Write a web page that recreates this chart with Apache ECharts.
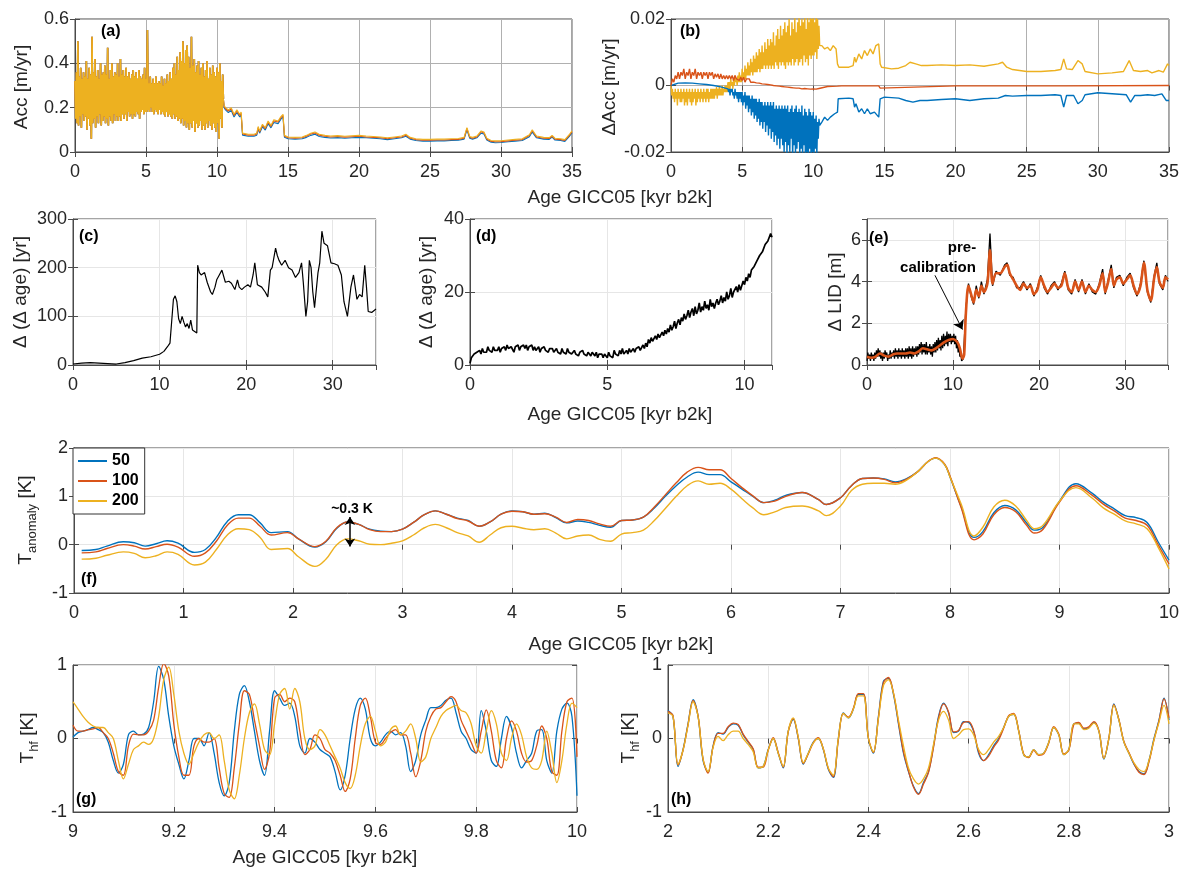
<!DOCTYPE html>
<html><head><meta charset="utf-8">
<script src="https://cdn.jsdelivr.net/npm/echarts@6.0.0/dist/echarts.min.js"></script>
<style>html,body{margin:0;padding:0;background:#fff}#c{width:1184px;height:869px}</style>
</head><body><div id="c"></div>
<script>
// ---------------- DATA ----------------
// (a) Accumulation [m/yr]; noisy Holocene part sampled every 0.05 kyr from 0
const accNoiseStart = 0, accNoiseStep = 0.05;
const accYellowNoise = [
0.32,0.15,0.36,0.13,0.50,0.12,0.34,0.16,0.38,0.11,0.33,0.17,0.36,0.14,0.34,0.16,0.41,0.10,0.33,0.15,
0.38,0.12,0.35,0.06,0.52,0.13,0.36,0.15,0.42,0.11,0.34,0.16,0.37,0.13,0.33,0.17,0.40,0.12,0.35,0.14,
0.36,0.16,0.39,0.13,0.35,0.15,0.47,0.12,0.33,0.16,0.37,0.14,0.40,0.13,0.34,0.17,0.36,0.14,0.35,0.16,
0.40,0.14,0.34,0.16,0.42,0.14,0.35,0.17,0.37,0.15,0.34,0.17,0.38,0.14,0.34,0.18,0.36,0.16,0.33,0.17,
0.35,0.15,0.37,0.17,0.34,0.16,0.36,0.18,0.33,0.17,0.37,0.15,0.34,0.18,0.33,0.19,0.35,0.17,0.38,0.18,
0.33,0.18,0.55,0.19,0.31,0.18,0.34,0.20,0.31,0.18,0.33,0.17,0.31,0.19,0.34,0.18,0.31,0.17,0.32,0.19,
0.31,0.17,0.34,0.18,0.30,0.17,0.33,0.16,0.31,0.18,0.35,0.16,0.32,0.17,0.36,0.16,0.33,0.15,0.38,0.17,
0.40,0.15,0.35,0.16,0.43,0.14,0.37,0.15,0.45,0.13,0.41,0.15,0.50,0.12,0.40,0.14,0.46,0.11,0.48,0.13,
0.43,0.10,0.38,0.13,0.52,0.11,0.39,0.14,0.42,0.09,0.36,0.13,0.39,0.11,0.41,0.12,0.35,0.14,0.38,0.10,
0.40,0.12,0.34,0.10,0.37,0.13,0.41,0.11,0.33,0.14,0.38,0.12,0.35,0.10,0.39,0.13,0.36,0.11,0.34,0.09,
0.38,0.13,0.36,0.06,0.40,0.15,0.32,0.11,0.35,0.24];
const accAgeLate = [10.5,10.6,10.8,11.0,11.2,11.4,11.6,11.7,11.8,12.2,12.6,12.8,12.9,13.0,13.2,13.4,13.6,13.8,14.0,14.3,
14.5,14.65,14.75,15.0,15.5,16.0,16.3,16.6,16.9,17.2,17.6,18.0,18.5,19.0,19.5,20.0,20.5,21.0,21.5,22.0,
22.5,23.0,23.3,23.6,24.0,24.5,25.0,25.5,26.0,26.5,27.0,27.4,27.6,27.8,28.0,28.3,28.6,28.8,29.0,29.3,
29.6,30.0,30.5,31.0,31.5,32.0,32.2,32.5,33.0,33.4,33.6,33.8,34.2,34.5,34.8,35.0];
const accYellowLate = [0.21,0.20,0.19,0.20,0.17,0.19,0.17,0.18,0.085,0.08,
0.08,0.085,0.115,0.095,0.125,0.11,0.14,0.12,0.145,0.14,
0.16,0.17,0.075,0.068,0.066,0.068,0.075,0.085,0.09,0.08,
0.075,0.072,0.074,0.071,0.073,0.075,0.072,0.07,0.068,0.064,
0.068,0.072,0.08,0.066,0.06,0.057,0.057,0.058,0.058,0.06,
0.061,0.066,0.11,0.07,0.066,0.072,0.095,0.09,0.062,0.052,
0.05,0.051,0.054,0.057,0.06,0.078,0.10,0.072,0.066,0.065,
0.075,0.062,0.06,0.056,0.078,0.095];
const accOrangeLate = [0.205,0.195,0.185,0.195,0.165,0.185,0.165,0.175,0.081,0.076,
0.076,0.081,0.110,0.090,0.120,0.105,0.135,0.115,0.140,0.135,
0.155,0.165,0.071,0.064,0.062,0.064,0.071,0.081,0.086,0.076,
0.071,0.068,0.070,0.067,0.069,0.071,0.068,0.066,0.064,0.060,
0.064,0.068,0.076,0.062,0.056,0.053,0.053,0.054,0.054,0.056,
0.057,0.062,0.106,0.066,0.062,0.068,0.091,0.086,0.058,0.048,
0.046,0.047,0.050,0.053,0.056,0.074,0.096,0.068,0.062,0.061,
0.071,0.058,0.056,0.052,0.074,0.091];
const accBlueLate = [0.200,0.190,0.178,0.188,0.158,0.178,0.158,0.168,0.076,0.071,
0.071,0.076,0.104,0.085,0.114,0.099,0.128,0.109,0.133,0.128,
0.148,0.158,0.067,0.060,0.058,0.060,0.066,0.075,0.080,0.070,
0.066,0.063,0.065,0.062,0.064,0.066,0.064,0.062,0.060,0.056,
0.060,0.064,0.071,0.058,0.052,0.049,0.049,0.050,0.050,0.052,
0.053,0.058,0.100,0.062,0.058,0.064,0.085,0.081,0.054,0.044,
0.042,0.043,0.046,0.049,0.052,0.069,0.090,0.064,0.058,0.057,
0.067,0.054,0.052,0.048,0.069,0.086];

// (b) ΔAcc [m/yr]
const dAccStep = 0.05;
const dAccYellowNoise = [ // from 0 kyr
0,-0.003,-0.001,-0.004,-0.002,-0.005,-0.001,-0.004,-0.002,-0.006,-0.001,-0.004,-0.002,-0.005,-0.001,-0.005,-0.002,-0.004,-0.001,-0.006,
-0.002,-0.005,-0.001,-0.006,-0.002,-0.004,-0.001,-0.005,-0.002,-0.006,-0.001,-0.005,-0.002,-0.004,-0.001,-0.006,-0.002,-0.005,-0.001,-0.004,
-0.002,-0.005,-0.001,-0.004,-0.002,-0.005,-0.001,-0.004,-0.002,-0.005,-0.001,-0.004,-0.001,-0.005,-0.002,-0.004,-0.001,-0.004,-0.001,-0.004,
-0.001,-0.004,-0.001,-0.003,-0.0005,-0.004,-0.001,-0.003,0,-0.003,-0.001,-0.003,0,-0.003,-0.001,-0.002,0,-0.002,0,-0.002,
0.001,-0.001,0.001,-0.001,0.002,0,0.001,-0.001,0.002,0,0.003,0.001,0.002,0,0.003,0.001,0.004,0.001,0.003,0.001,
0.005,0.002,0.004,0.002,0.006,0.002,0.005,0.003,0.007,0.003,0.006,0.003,0.008,0.004,0.007,0.003,0.009,0.004,0.008,0.004,
0.010,0.004,0.009,0.005,0.011,0.004,0.010,0.005,0.012,0.005,0.010,0.006,0.013,0.005,0.011,0.006,0.014,0.005,0.012,0.006,
0.014,0.005,0.013,0.006,0.016,0.005,0.012,0.007,0.015,0.006,0.017,0.005,0.014,0.007,0.018,0.006,0.015,0.007,0.017,0.006,
0.019,0.005,0.016,0.007,0.018,0.006,0.020,0.007,0.015,0.006,0.019,0.008,0.017,0.006,0.021,0.007,0.016,0.008,0.019,0.006,
0.022,0.007,0.018,0.008,0.020,0.006,0.019,0.009,0.022,0.007,0.017,0.008,0.021,0.006,0.019,0.009,0.023,0.008,0.020,0.009,
0.022,0.009,0.019,0.010,0.023,0.008,0.020,0.011,0.018,0.012];
const dAccYellowLate = [[10.5,0.012],[10.6,0.012],[10.8,0.011],[11,0.0115],[11.2,0.0105],[11.4,0.012],[11.6,0.011],[11.7,0.0065],[11.8,0.0055],[12.5,0.0055],[12.8,0.006],[12.9,0.0085],[13.0,0.007],[13.2,0.0095],[13.4,0.008],[13.6,0.0105],[13.8,0.009],[14.0,0.011],[14.2,0.0095],[14.4,0.012],[14.6,0.0125],[14.7,0.0065],[14.8,0.0055],[15.5,0.005],[16,0.0052],[16.5,0.006],[16.8,0.007],[17.2,0.0065],[17.6,0.006],[18,0.006],[19,0.0062],[20,0.006],[21,0.0062],[22,0.0058],[23,0.0065],[23.3,0.007],[23.6,0.0055],[24,0.0048],[25,0.0042],[26,0.0042],[27,0.0045],[27.4,0.0048],[27.6,0.008],[27.8,0.005],[28.2,0.0048],[28.6,0.0075],[28.9,0.0065],[29.1,0.0042],[30,0.0035],[31,0.0038],[31.8,0.0042],[32.2,0.0075],[32.5,0.0045],[33,0.0042],[33.5,0.0045],[33.8,0.0038],[34.3,0.0045],[34.6,0.004],[34.9,0.0065],[35,0.006]];
const dAccBlueEarly = [[0,0],[0.5,0.0007],[1,0.0008],[1.5,0.0007],[2,0.0005],[2.5,0.0003],[3,0],[3.5,-0.0004]];
const dAccBlueNoiseStart = 4.0;
const dAccBlueNoise = [
-0.001,-0.002,-0.001,-0.003,-0.001,-0.002,-0.001,-0.003,-0.002,-0.004,-0.001,-0.003,-0.002,-0.004,-0.002,-0.005,-0.002,-0.004,-0.002,-0.005,
-0.002,-0.006,-0.003,-0.005,-0.002,-0.007,-0.003,-0.006,-0.003,-0.008,-0.003,-0.007,-0.004,-0.009,-0.003,-0.008,-0.004,-0.010,-0.004,-0.009,
-0.004,-0.011,-0.005,-0.010,-0.004,-0.012,-0.005,-0.011,-0.005,-0.013,-0.006,-0.011,-0.005,-0.014,-0.006,-0.012,-0.005,-0.015,-0.006,-0.013,
-0.005,-0.016,-0.006,-0.014,-0.005,-0.017,-0.007,-0.015,-0.006,-0.018,-0.007,-0.016,-0.006,-0.019,-0.007,-0.016,-0.006,-0.018,-0.007,-0.020,
-0.006,-0.017,-0.007,-0.021,-0.006,-0.018,-0.008,-0.020,-0.007,-0.016,-0.006,-0.022,-0.008,-0.018,-0.007,-0.021,-0.006,-0.019,-0.008,-0.017,
-0.007,-0.022,-0.008,-0.019,-0.006,-0.021,-0.009,-0.018,-0.007,-0.023,-0.008,-0.020,-0.009,-0.022,-0.007,-0.019,-0.008,-0.024,-0.009,-0.020,
-0.008,-0.022,-0.010,-0.019,-0.009,-0.021,-0.011,-0.016,-0.010,-0.012];
const dAccBlueLate = [[10.5,-0.012],[10.6,-0.011],[10.8,-0.0095],[11,-0.0105],[11.2,-0.0095],[11.5,-0.0085],[11.7,-0.008],[11.75,-0.004],[12.5,-0.0038],[12.8,-0.004],[12.9,-0.0065],[13.0,-0.0055],[13.2,-0.008],[13.4,-0.007],[13.6,-0.0085],[13.8,-0.007],[14.0,-0.0085],[14.3,-0.008],[14.6,-0.0095],[14.7,-0.004],[15,-0.0035],[16,-0.0038],[16.5,-0.0045],[17,-0.005],[17.5,-0.0045],[18,-0.0045],[19,-0.0042],[20,-0.004],[21,-0.0045],[22,-0.004],[23,-0.0038],[23.5,-0.003],[24,-0.0032],[25,-0.003],[26,-0.003],[27,-0.0028],[27.4,-0.003],[27.6,-0.0065],[27.8,-0.003],[28.3,-0.003],[28.6,-0.0055],[28.9,-0.0045],[29.1,-0.0028],[30,-0.0022],[31,-0.0025],[32,-0.0028],[32.3,-0.005],[32.6,-0.003],[33,-0.003],[33.5,-0.0028],[34,-0.003],[34.5,-0.0025],[34.8,-0.0045],[35,-0.0045]];
const dAccOrangeStep = 0.1;
const dAccOrangeNoise = [
0,0.002,0.001,0.003,0.002,0.004,0.002,0.004,0.003,0.005,
0.002,0.004,0.003,0.005,0.002,0.004,0.003,0.005,0.002,0.004,
0.003,0.004,0.002,0.004,0.003,0.004,0.002,0.004,0.003,0.004,
0.002,0.0035,0.0025,0.0035,0.002,0.0035,0.002,0.003,0.002,0.003,
0.002,0.003,0.002,0.003,0.0015,0.003,0.002,0.0025,0.0015,0.0025,
0.0015,0.0025,0.001,0.002,0.0015,0.002,0.001,0.0015,0.001,0.0015,
0.0008,0.0012,0.0007,0.001,0.0005,0.0008,0.0004,0.0007,0.0003,0.0005,
0.0002,0.0004,0,0.0002,-0.0001,0.0001,-0.0002,0,-0.0003,-0.0001,
-0.0004,-0.0002,-0.0005,-0.0003,-0.0006,-0.0003,-0.0007,-0.0004,-0.0008,-0.0005,
-0.0008,-0.0005,-0.001,-0.0006,-0.0009,-0.0005,-0.001,-0.0006,-0.0011,-0.0007,
-0.001,-0.0006,-0.0011,-0.0007,-0.0009];
const dAccOrangeLate = [[10.5,-0.0005],[11,-0.0003],[11.7,-0.0002],[12,-0.0001],[14.6,-0.0001],[14.7,-0.0008],[14.8,-0.0002],[20,-0.0001],[27.5,-0.0001],[27.6,-0.0007],[27.7,-0.0001],[35,0]];

// (c) Δ(Δage) [yr], 0-35 kyr
const ddAgeLong = [[0,2],[1,4],[2,5],[3,4],[4,3],[5,2],[6,5],[7,9],[8,14],[9,17],[10,22],[10.5,28],[11,40],[11.2,45],[11.4,90],[11.6,135],[11.8,142],[12.0,130],[12.2,95],[12.4,85],[12.6,100],[12.8,88],[13.0,78],[13.2,85],[13.4,75],[13.6,92],[13.8,72],[14.0,68],[14.3,66],[14.4,205],[14.6,190],[14.8,185],[15.0,188],[15.2,190],[15.5,170],[15.9,150],[16.1,145],[16.4,160],[16.6,175],[16.9,185],[17.2,195],[17.6,170],[18.0,172],[18.3,168],[18.7,155],[19.0,175],[19.2,160],[19.5,155],[19.8,160],[20.2,165],[20.5,160],[20.8,185],[21.0,210],[21.3,165],[21.8,160],[22.2,150],[22.5,140],[22.8,195],[23.0,200],[23.4,240],[23.6,225],[23.8,215],[24.1,205],[24.5,215],[24.9,200],[25.3,195],[25.7,180],[26.1,190],[26.4,210],[26.6,170],[26.9,100],[27.1,130],[27.3,215],[27.5,200],[27.7,150],[27.9,118],[28.1,122],[28.3,190],[28.5,210],[28.75,275],[29.0,250],[29.4,245],[29.8,210],[30.2,208],[30.6,205],[31.0,185],[31.3,130],[31.7,100],[32.1,160],[32.4,185],[32.6,185],[32.8,135],[33.1,145],[33.4,140],[33.7,205],[33.9,160],[34.1,110],[34.5,108],[35,115]];

// (d) Δ(Δage) [yr], 0-11 kyr every 0.05 kyr
const ddAgeShortStep = 0.05;
const ddAgeShort = [
0.5,2,1.5,3,2.5,3.5,3,4,3,4.5,3.5,4,3.5,5,4,4.5,3.5,5,4,4.5,
4,5,3.5,4.5,4,5,4,5.5,4.5,4,5,4.5,3.5,5,4.5,5.5,4,5,4.5,5.5,
4.5,5.5,4,5,4.5,5.5,4,5,4,4.5,5,3.5,4.5,4,5,4,4.5,3.5,4.5,4,
4.5,3.5,4,4.5,3.5,4,3,4.5,3.5,4,3,4.5,3.5,4,3,3.5,4,3,3.5,2.5,
3.5,3,4,3,3.5,2.5,3.5,3,2.5,3.5,3,2.5,3.5,2,3,2.5,3,2,3,2.5,
2,3.5,2.5,3,2,4,3,3.5,2.5,4,3,4.5,3,3.5,4,3,4.5,3.5,4,4.5,
3.5,4.5,4,5,4,4.5,5.5,4.5,6,5,7,6,7.5,6.5,7,8,7,8.5,7.5,8,
9,8,9.5,8.5,10,9,11,9.5,10.5,12,10,11.5,12.5,11,13,12,14,12.5,13.5,15,
13,14.5,15.5,13.5,16,14,15,17,14.5,16,15,17.5,15.5,16.5,15,18,16,17,15.5,17,
18,16.5,17.5,19,17,18.5,17.5,20,18,19,21,18.5,20,19.5,21.5,20,22,20.5,21,23,
22,24,23,25,24,26,25.5,27,26.5,28.5,28,30,29.5,31,31,33,32.5,34,35,36,35];

// (e) ΔLID [m]
const lidBlackStep = 0.1;
const lidBlackNoise = [
0.2,0.6,0.3,0.5,0.2,0.6,0.3,0.5,0.2,0.6,
0.3,0.7,0.4,0.8,0.4,0.7,0.3,0.6,0.2,0.6,
0.3,0.7,0.4,0.6,0.2,0.5,0.3,0.7,0.3,0.6,
0.4,0.7,0.3,0.8,0.4,0.7,0.3,0.8,0.4,0.7,
0.3,0.8,0.4,0.7,0.3,0.8,0.4,0.8,0.3,0.9,
0.4,0.8,0.3,0.9,0.4,0.8,0.5,0.9,0.4,0.9,
0.5,1.0,0.6,1.1,0.5,1.0,0.6,1.0,0.5,1.1,
0.5,0.9,0.6,1.0,0.5,0.9,0.4,1.0,0.6,1.1,
0.6,1.2,0.7,1.3,0.8,1.2,0.7,1.4,0.8,1.5,
0.9,1.4,1.0,1.6,0.9,1.5,1.1,1.5,1.0,1.4,
1.1,1.5,1.0,1.4,0.8,1.2,0.6,0.9,0.4,0.6,0.2];
const lidBlackLate = [[11.2,0.3],[11.5,2.7],[11.8,3.9],[12.1,3.3],[12.4,2.9],[12.7,3.8],[13,3.2],[13.3,4.0],[13.6,3.4],[14,4.1],[14.3,6.3],[14.6,3.8],[15,4.5],[15.5,4.3],[16,4.8],[16.3,4.9],[16.6,4.3],[17,4.2],[17.4,3.7],[17.8,3.7],[18.2,4.0],[18.6,3.6],[19,3.9],[19.4,3.3],[19.8,3.7],[20.2,4.3],[20.6,3.7],[21,3.4],[21.4,3.8],[21.8,4.0],[22.2,3.6],[22.6,3.9],[23,4.5],[23.4,3.6],[23.8,3.4],[24.2,4.1],[24.6,3.5],[25,4.1],[25.4,3.4],[25.8,3.9],[26.2,3.5],[26.6,3.4],[27,3.9],[27.4,4.6],[27.7,3.4],[28,4.0],[28.4,4.8],[28.7,3.7],[29,4.2],[29.4,4.3],[29.8,3.8],[30.2,4.2],[30.6,4.4],[31,3.7],[31.4,3.3],[31.8,3.9],[32.2,5.0],[32.6,3.5],[33,3.0],[33.4,4.3],[33.7,4.9],[34,3.9],[34.4,3.6],[34.7,4.3],[35,4.0]];
const lidOrange = [[0,0.4],[0.5,0.35],[1,0.4],[1.5,0.55],[2,0.45],[2.5,0.4],[3,0.5],[3.5,0.55],[4,0.55],[4.5,0.55],[5,0.6],[5.5,0.55],[6,0.65],[6.5,0.8],[7,0.75],[7.5,0.7],[8,0.8],[8.5,0.95],[9,1.1],[9.5,1.2],[10,1.25],[10.5,1.1],[10.8,0.8],[11.1,0.3],[11.3,0.5],[11.5,2.5],[11.8,3.8],[12.1,3.4],[12.4,3.0],[12.7,3.6],[13,3.3],[13.3,3.8],[13.6,3.5],[14,3.9],[14.3,5.5],[14.6,3.9],[15,4.4],[15.5,4.4],[16,4.7],[16.3,4.8],[16.6,4.4],[17,4.1],[17.4,3.8],[17.8,3.6],[18.2,3.9],[18.6,3.7],[19,3.8],[19.4,3.4],[19.8,3.6],[20.2,4.2],[20.6,3.8],[21,3.5],[21.4,3.7],[21.8,3.9],[22.2,3.7],[22.6,3.8],[23,4.4],[23.4,3.7],[23.8,3.5],[24.2,4.0],[24.6,3.6],[25,4.0],[25.4,3.5],[25.8,3.8],[26.2,3.6],[26.6,3.5],[27,3.8],[27.4,4.4],[27.7,3.5],[28,3.9],[28.4,4.6],[28.7,3.8],[29,4.1],[29.4,4.2],[29.8,3.9],[30.2,4.1],[30.6,4.3],[31,3.8],[31.4,3.4],[31.8,3.8],[32.2,4.9],[32.6,3.6],[33,3.1],[33.4,4.2],[33.7,4.7],[34,4.0],[34.4,3.7],[34.7,4.2],[35,4.1]];

// (f) T anomaly [K]
const tAnomAge = [0.07,0.2,0.3,0.45,0.55,0.65,0.75,0.85,0.95,1.1, 1.2,1.3,1.4,1.5,1.6,1.7,1.8,1.95,2.05,2.2, 2.3,2.4,2.5,2.6,2.7,2.8,2.9,3.0,3.1,3.2, 3.3,3.4,3.5,3.6,3.7,3.8,3.9,4.0,4.1,4.2, 4.3,4.4,4.5,4.6,4.7,4.8,4.9,5.0,5.1,5.2, 5.3,5.4,5.5,5.6,5.7,5.8,5.9,6.0,6.1,6.2, 6.3,6.4,6.5,6.65,6.8,6.87,7.0,7.1,7.2,7.3, 7.4,7.5,7.6,7.7,7.8,7.87,7.95,8.0,8.1,8.22, 8.3,8.4,8.5,8.6,8.7,8.77,8.85,9.0,9.15,9.3, 9.4,9.5,9.6,9.7,9.8,9.9,10.0];
const tAnom50 = [-0.12,-0.10,-0.03,0.06,0.04,-0.03,0.02,0.08,0.03,-0.16,
-0.10,0.15,0.48,0.62,0.62,0.45,0.25,0.27,0.12,-0.05,
0.06,0.34,0.47,0.42,0.32,0.28,0.27,0.32,0.46,0.62,
0.70,0.63,0.55,0.50,0.38,0.47,0.63,0.70,0.68,0.63,
0.65,0.56,0.45,0.49,0.46,0.40,0.36,0.50,0.51,0.57,
0.76,1.00,1.22,1.40,1.50,1.45,1.45,1.30,1.15,1.00,
0.87,0.92,1.02,1.08,0.93,0.83,0.97,1.22,1.37,1.38,
1.36,1.30,1.36,1.50,1.72,1.79,1.66,1.40,0.80,0.15,
0.27,0.66,0.81,0.72,0.45,0.30,0.36,0.90,1.26,1.06,
0.88,0.74,0.60,0.56,0.46,0.06,-0.32];
const tAnom100 = [-0.17,-0.15,-0.08,0.00,-0.03,-0.09,-0.04,0.01,-0.05,-0.24,
-0.17,0.07,0.40,0.55,0.55,0.38,0.20,0.25,0.12,-0.04,
0.07,0.35,0.47,0.42,0.31,0.27,0.27,0.32,0.46,0.62,
0.70,0.63,0.54,0.49,0.38,0.47,0.63,0.69,0.68,0.63,
0.64,0.57,0.46,0.52,0.50,0.43,0.38,0.50,0.51,0.57,
0.78,1.03,1.28,1.50,1.60,1.55,1.55,1.37,1.18,1.01,
0.87,0.90,1.00,1.08,0.93,0.83,0.97,1.22,1.37,1.38,
1.35,1.28,1.35,1.50,1.72,1.80,1.67,1.42,0.78,0.10,
0.22,0.62,0.77,0.68,0.40,0.24,0.32,0.88,1.22,1.02,
0.84,0.70,0.55,0.50,0.40,0.00,-0.40];
const tAnom200 = [-0.30,-0.28,-0.22,-0.15,-0.18,-0.27,-0.23,-0.15,-0.20,-0.42,
-0.36,-0.10,0.20,0.33,0.31,0.15,-0.10,-0.08,-0.25,-0.45,
-0.30,0.00,0.12,0.08,0.01,0.00,0.03,0.08,0.20,0.35,
0.42,0.35,0.25,0.18,0.05,0.20,0.35,0.38,0.34,0.31,
0.33,0.24,0.12,0.18,0.20,0.11,0.07,0.22,0.25,0.30,
0.50,0.75,1.00,1.22,1.32,1.25,1.27,1.15,0.95,0.76,
0.62,0.68,0.77,0.80,0.70,0.60,0.80,1.12,1.25,1.27,
1.27,1.25,1.33,1.50,1.72,1.79,1.66,1.40,0.85,0.18,
0.36,0.78,0.92,0.80,0.50,0.33,0.40,0.90,1.18,0.96,
0.76,0.63,0.49,0.43,0.33,-0.05,-0.50];
const legendNames = ['50','100','200'];

// (g) T_hf [K], 9-10 kyr every 0.01 kyr
const hfGStart = 9.0, hfStep = 0.01;
const hfG50 = [0.02,0.08,0.10,0.12,0.15,0.12,0.08,-0.05,-0.30,-0.47,
-0.35,0.05,0.10,0.05,0.06,0.15,0.50,0.98,0.80,0.30,
-0.10,-0.35,-0.55,-0.30,0.00,0.00,-0.10,0.08,-0.20,-0.60,
-0.78,-0.60,0.10,0.60,0.72,0.50,0.10,-0.30,-0.50,0.10,
0.65,0.55,0.45,0.48,0.30,-0.10,-0.20,0.00,-0.05,-0.15,
-0.20,-0.25,-0.45,-0.70,-0.50,0.00,0.40,0.55,0.40,0.00,
-0.10,-0.05,0.05,0.10,0.05,0.08,-0.10,-0.45,-0.30,0.05,
0.25,0.42,0.42,0.45,0.52,0.55,0.35,0.10,0.00,-0.15,
-0.20,0.38,0.10,-0.30,-0.38,0.00,0.30,0.15,-0.20,-0.40,
-0.30,-0.20,0.10,0.12,-0.30,-0.47,0.10,0.40,0.48,0.30,-0.78];
const hfG100 = [0.18,0.10,0.10,0.12,0.13,0.15,0.08,0.00,-0.20,-0.45,
-0.50,-0.10,0.06,0.05,0.05,0.10,0.25,0.70,1.02,0.85,
0.20,-0.25,-0.50,-0.50,-0.10,0.00,-0.05,-0.05,0.00,-0.40,
-0.75,-0.80,-0.40,0.20,0.65,0.60,0.25,-0.10,-0.42,-0.20,
0.55,0.60,0.50,0.55,0.50,0.10,-0.22,-0.15,0.05,0.00,
-0.15,-0.20,-0.30,-0.50,-0.72,-0.55,0.00,0.45,0.55,0.30,
-0.05,-0.08,0.00,0.08,0.12,0.05,0.05,-0.20,-0.52,-0.30,
0.10,0.30,0.40,0.42,0.50,0.57,0.50,0.25,0.10,-0.05,
-0.20,0.10,0.39,0.10,-0.30,-0.40,0.00,0.24,0.10,-0.20,
-0.32,-0.30,-0.10,0.17,0.00,-0.45,-0.50,0.10,0.50,0.55,-0.25];
const hfG200 = [0.50,0.40,0.30,0.22,0.17,0.15,0.15,0.08,0.00,-0.30,
-0.55,-0.35,-0.15,-0.10,-0.05,-0.08,0.00,0.30,0.80,0.97,
0.60,0.10,-0.20,-0.35,-0.20,-0.05,0.05,0.08,0.00,0.05,
-0.30,-0.70,-0.82,-0.50,0.00,0.35,0.47,0.20,-0.15,-0.22,
0.20,0.60,0.68,0.40,0.68,0.50,0.00,-0.15,-0.10,0.12,
0.05,-0.10,-0.25,-0.40,-0.60,-0.68,-0.50,-0.10,0.20,0.30,
0.10,-0.10,-0.05,0.12,0.17,0.05,0.10,0.20,0.00,-0.32,
-0.25,0.00,0.15,0.30,0.38,0.42,0.45,0.38,0.35,0.20,
-0.10,-0.20,0.10,0.38,0.20,-0.20,-0.30,0.00,0.20,0.05,
-0.25,-0.40,-0.42,-0.30,0.10,-0.20,-0.60,-0.30,0.20,0.48,0.42];

// (h) T_hf [K], 2-3 kyr every 0.01 kyr
const hfHStart = 2.0;
const hfH50 = [0.38,0.30,-0.38,-0.15,0.20,0.53,0.30,-0.30,-0.46,-0.10,
0.08,0.06,0.15,0.20,0.18,0.05,-0.05,-0.15,-0.40,-0.38,
-0.15,0.00,-0.20,-0.40,0.10,0.26,0.00,-0.35,-0.20,-0.05,
0.00,-0.15,-0.42,-0.53,0.00,0.35,0.28,0.40,0.60,0.60,
0.00,-0.20,0.30,0.78,0.82,0.60,0.20,-0.20,-0.45,-0.65,
-0.75,-0.60,-0.45,-0.10,0.30,0.48,0.35,0.08,0.10,0.23,
0.22,0.10,-0.20,-0.30,-0.22,-0.10,0.00,0.15,0.30,0.33,
0.10,-0.22,-0.25,-0.15,-0.22,-0.20,-0.05,0.15,0.05,-0.22,
-0.15,0.20,0.21,0.13,0.15,0.22,0.10,-0.28,0.00,0.47,
0.25,-0.05,-0.20,-0.35,-0.45,-0.48,-0.30,0.00,0.25,0.55,0.25];
const hfH100 = [0.37,0.31,-0.36,-0.16,0.19,0.52,0.31,-0.28,-0.47,-0.11,
0.07,0.07,0.16,0.21,0.19,0.06,-0.04,-0.14,-0.39,-0.39,
-0.16,0.01,-0.19,-0.39,0.09,0.27,0.01,-0.34,-0.21,-0.06,
0.01,-0.14,-0.41,-0.52,-0.02,0.34,0.29,0.41,0.61,0.61,
0.01,-0.19,0.28,0.76,0.83,0.62,0.22,-0.18,-0.44,-0.66,
-0.76,-0.62,-0.46,-0.12,0.28,0.47,0.36,0.09,0.11,0.22,
0.23,0.11,-0.18,-0.30,-0.24,-0.12,-0.02,0.14,0.31,0.34,
0.11,-0.21,-0.26,-0.16,-0.23,-0.21,-0.06,0.16,0.06,-0.21,
-0.16,0.19,0.22,0.14,0.16,0.23,0.11,-0.27,0.01,0.46,
0.26,-0.04,-0.19,-0.34,-0.46,-0.49,-0.32,-0.02,0.24,0.54,0.28];
const hfH200 = [0.35,0.30,-0.35,-0.16,0.18,0.50,0.30,-0.28,-0.45,-0.12,
0.03,-0.03,0.05,0.10,0.10,0.00,-0.08,-0.18,-0.40,-0.38,
-0.16,0.00,-0.20,-0.38,0.10,0.28,0.02,-0.33,-0.20,-0.06,
0.00,-0.14,-0.40,-0.50,0.00,0.34,0.28,0.40,0.58,0.58,
0.00,-0.18,0.27,0.72,0.80,0.62,0.25,-0.10,-0.40,-0.55,
-0.62,-0.55,-0.40,-0.08,0.25,0.37,0.25,0.00,0.05,0.12,
0.13,0.05,-0.15,-0.22,-0.15,-0.05,0.03,0.15,0.30,0.33,
0.10,-0.22,-0.25,-0.15,-0.22,-0.20,-0.05,0.15,0.05,-0.22,
-0.15,0.20,0.20,0.12,0.14,0.21,0.10,-0.27,0.00,0.45,
0.25,-0.05,-0.20,-0.33,-0.42,-0.45,-0.30,-0.02,0.22,0.45,0.20];

// ---------------- BUILD ----------------
function seq(start, step, vals){ return vals.map((v,i)=>[+(start+i*step).toFixed(4), v]); }
function zip(xs, ys){ return xs.map((x,i)=>[x, ys[i]]); }

const FONT = "'Liberation Sans', Arial, Helvetica, sans-serif";
const AX = '#4a4a4a', TXT = '#262626';
const C_BLUE = '#0072BD', C_ORANGE = '#D95319', C_YELLOW = '#EDB120';
const DARKGRID = '#b0b0b0', LIGHTGRID = '#e6e6e6';

const grids = [
  {left:75, top:19, width:497, height:133},
  {left:671, top:19, width:498, height:133},
  {left:73, top:219, width:303, height:146},
  {left:470, top:219, width:302, height:146},
  {left:867, top:219, width:301, height:146},
  {left:74, top:448, width:1095, height:145},
  {left:73, top:665, width:504, height:147},
  {left:668, top:665, width:501, height:147}
].map(g=>Object.assign({show:true, borderColor:AX, borderWidth:1, backgroundColor:'transparent', containLabel:false, outerBoundsMode:'none'}, g));

// [xmin,xmax,xint,ymin,ymax,yint,gridColor,hideXMax,hideYMax]
const axSpec = [
  [0,35,5, 0,0.6,0.2, DARKGRID,false,false],
  [0,35,5, -0.02,0.02,0.02, DARKGRID,false,false],
  [0,35,10, 0,300,100, LIGHTGRID,true,false],
  [0,11,5, 0,40,20, LIGHTGRID,true,false],
  [0,35,10, 0,7,2, LIGHTGRID,true,true],
  [0,10,1, -1,2,1, LIGHTGRID,false,false],
  [9,10,0.2, -1,1,1, LIGHTGRID,false,false],
  [2,3,0.2, -1,1,1, LIGHTGRID,false,false]
];
const xAxes = [], yAxes = [];
axSpec.forEach((s,g)=>{
  xAxes.push({type:'value', gridIndex:g, min:s[0], max:s[1], interval:s[2],
    axisLine:{show:true,onZero:false,lineStyle:{color:AX}},
    axisTick:{show:true,inside:true,length:5,lineStyle:{color:AX}},
    axisLabel:{color:TXT,fontSize:18,fontFamily:FONT,margin:11,showMaxLabel:!s[7],showMinLabel:true},
    splitLine:{show:true,lineStyle:{color:s[6],width:1}}});
  yAxes.push({type:'value', gridIndex:g, min:s[3], max:s[4], interval:s[5],
    axisLine:{show:true,onZero:false,lineStyle:{color:AX}},
    axisTick:{show:true,inside:true,length:5,lineStyle:{color:AX}},
    axisLabel:{color:TXT,fontSize:18,fontFamily:FONT,margin:6,showMaxLabel:!s[8],showMinLabel:true},
    splitLine:{show:true,lineStyle:{color:s[6],width:1}}});
});
axSpec.forEach((s,g)=>{
  xAxes.push({type:'value', gridIndex:g, position:'top', min:s[0], max:s[1], interval:s[2],
    axisLine:{show:false}, axisTick:{show:true,inside:true,length:5,lineStyle:{color:AX}},
    axisLabel:{show:false}, splitLine:{show:false}});
  yAxes.push({type:'value', gridIndex:g, position:'right', min:s[3], max:s[4], interval:s[5],
    axisLine:{show:false}, axisTick:{show:true,inside:true,length:5,lineStyle:{color:AX}},
    axisLabel:{show:false}, splitLine:{show:false}});
});

function line(name, g, data, color, width, extra){
  return Object.assign({type:'line', name:name, xAxisIndex:g, yAxisIndex:g, data:data,
    symbol:'none', showSymbol:false, clip:true, animation:false, silent:true,
    lineStyle:{color:color, width:width}, itemStyle:{color:color}}, extra||{});
}

// In the noisy Holocene part of (a) the three runs are indistinguishable: all follow the same read values.
const accNoise = seq(accNoiseStart,accNoiseStep,accYellowNoise);
const series = [
  // (a)
  line('a50n',0, accNoise, C_BLUE, 1.6),
  line('a100n',0, accNoise, C_ORANGE, 1.6),
  line('a50',0, [accNoise[accNoise.length-1]].concat(zip(accAgeLate,accBlueLate)), C_BLUE, 1.1),
  line('a100',0, [accNoise[accNoise.length-1]].concat(zip(accAgeLate,accOrangeLate)), C_ORANGE, 1.1),
  line('a200n',0, accNoise, C_YELLOW, 1.6),
  line('a200',0, [accNoise[accNoise.length-1]].concat(zip(accAgeLate,accYellowLate)), C_YELLOW, 1.1),
  // (b)
  line('b200',1, seq(0,dAccStep,dAccYellowNoise).concat(dAccYellowLate), C_YELLOW, 1.4),
  line('b50',1, dAccBlueEarly.concat(seq(dAccBlueNoiseStart,dAccStep,dAccBlueNoise), dAccBlueLate), C_BLUE, 1.4),
  line('b100',1, seq(0,dAccOrangeStep,dAccOrangeNoise).concat(dAccOrangeLate), C_ORANGE, 1.4),
  // (c)
  line('c',2, ddAgeLong, '#000', 1.2),
  // (d)
  line('d',3, seq(0,ddAgeShortStep,ddAgeShort), '#000', 1.7),
  // (e)
  line('eb',4, seq(0,lidBlackStep,lidBlackNoise).concat(lidBlackLate), '#000', 1.3, {
    markLine:{silent:true, symbol:['none','arrow'], symbolSize:9, animation:false,
      lineStyle:{color:'#000', width:1, type:'solid'}, label:{show:false}, emphasis:{disabled:true},
      data:[[{coord:[7.9,4.3]},{coord:[11.1,1.7]}]]}}),
  line('eo',4, lidOrange, C_ORANGE, 2.6, {smooth:0.3}),
  // (f)
  line('50',5, zip(tAnomAge,tAnom50), C_BLUE, 1.4, {smooth:0.4,
    markLine:{silent:true, symbol:['arrow','arrow'], symbolSize:8, animation:false,
      lineStyle:{color:'#000', width:1.5, type:'solid'}, label:{show:false}, emphasis:{disabled:true},
      data:[[{coord:[2.52,0.57]},{coord:[2.52,-0.04]}]]}}),
  line('100',5, zip(tAnomAge,tAnom100), C_ORANGE, 1.4, {smooth:0.4}),
  line('200',5, zip(tAnomAge,tAnom200), C_YELLOW, 1.4, {smooth:0.4}),
  // (g)
  line('g50',6, seq(hfGStart,hfStep,hfG50), C_BLUE, 1.3, {smooth:0.35}),
  line('g100',6, seq(hfGStart,hfStep,hfG100), C_ORANGE, 1.3, {smooth:0.35}),
  line('g200',6, seq(hfGStart,hfStep,hfG200), C_YELLOW, 1.3, {smooth:0.35}),
  // (h)
  line('h50',7, seq(hfHStart,hfStep,hfH50), C_BLUE, 1.3, {smooth:0.35}),
  line('h100',7, seq(hfHStart,hfStep,hfH100), C_ORANGE, 1.3, {smooth:0.35}),
  line('h200',7, seq(hfHStart,hfStep,hfH200), C_YELLOW, 1.3, {smooth:0.35})
];

function txt(x, y, text, size, opts){
  const o = opts||{};
  return {type:'text', x:x, y:y, rotation:o.rot||0, z:100, silent:true,
    style:Object.assign({text:text, fill:o.color||TXT, fontSize:size, fontFamily:FONT,
      fontWeight:o.bold?'bold':'normal',
      align:o.align||'center', verticalAlign:'middle', textAlign:o.align||'center', textVerticalAlign:'middle'}, o.style||{})};
}
const R = Math.PI/2;
const subRich = {n:{fontSize:19,fontFamily:FONT,fill:TXT,lineHeight:26}, s:{fontSize:13,fontFamily:FONT,fill:TXT,lineHeight:10,verticalAlign:'bottom'}};
const graphics = [
  // x labels
  txt(620,198,'Age GICC05 [kyr b2k]',19),
  txt(620,415,'Age GICC05 [kyr b2k]',19),
  txt(621,645,'Age GICC05 [kyr b2k]',19),
  txt(325,858,'Age GICC05 [kyr b2k]',19),
  // y labels
  txt(22,87,'Acc [m/yr]',19,{rot:R}),
  txt(610,87,'ΔAcc [m/yr]',19,{rot:R}),
  txt(21,292,'Δ (Δ age) [yr]',19,{rot:R}),
  txt(427,292,'Δ (Δ age) [yr]',19,{rot:R}),
  txt(836,292,'Δ LID [m]',19,{rot:R}),
  txt(26,520,'{n|T}{s|anomaly}{n| [K]}',19,{rot:R,style:{rich:subRich}}),
  txt(28,738,'{n|T}{s|hf}{n| [K]}',19,{rot:R,style:{rich:subRich}}),
  txt(629,738,'{n|T}{s|hf}{n| [K]}',19,{rot:R,style:{rich:subRich}}),
  // panel letters
  txt(101,32,'(a)',16,{bold:true,align:'left',color:'#000'}),
  txt(680,32,'(b)',16,{bold:true,align:'left',color:'#000'}),
  txt(79,237,'(c)',16,{bold:true,align:'left',color:'#000'}),
  txt(476,237,'(d)',16,{bold:true,align:'left',color:'#000'}),
  txt(869,239,'(e)',16,{bold:true,align:'left',color:'#000'}),
  txt(81,580,'(f)',16,{bold:true,align:'left',color:'#000'}),
  txt(76,800,'(g)',16,{bold:true,align:'left',color:'#000'}),
  txt(671,800,'(h)',16,{bold:true,align:'left',color:'#000'}),
  // annotations
  txt(962,248,'pre-',15,{bold:true,color:'#000'}),
  txt(938,268,'calibration',15,{bold:true,color:'#000'}),
  txt(352,509,'~0.3 K',14,{bold:true,color:'#000'})
];

const chart = echarts.init(document.getElementById('c'), null, {renderer:'canvas'});
chart.setOption({
  animation:false,
  backgroundColor:'#fff',
  textStyle:{fontFamily:FONT},
  grid:grids, xAxis:xAxes, yAxis:yAxes, series:series, graphic:graphics,
  legend:{data:legendNames, left:73, top:448, orient:'vertical', icon:'rect', itemGap:2, itemWidth:29, itemHeight:2,
    padding:[4,6,4,5], borderColor:'#333', borderWidth:1, borderRadius:0, backgroundColor:'#fff',
    textStyle:{fontSize:16,fontWeight:'bold',color:'#000',fontFamily:FONT,lineHeight:18,padding:[0,0,0,0]}, selectedMode:false}
});
</script></body></html>
